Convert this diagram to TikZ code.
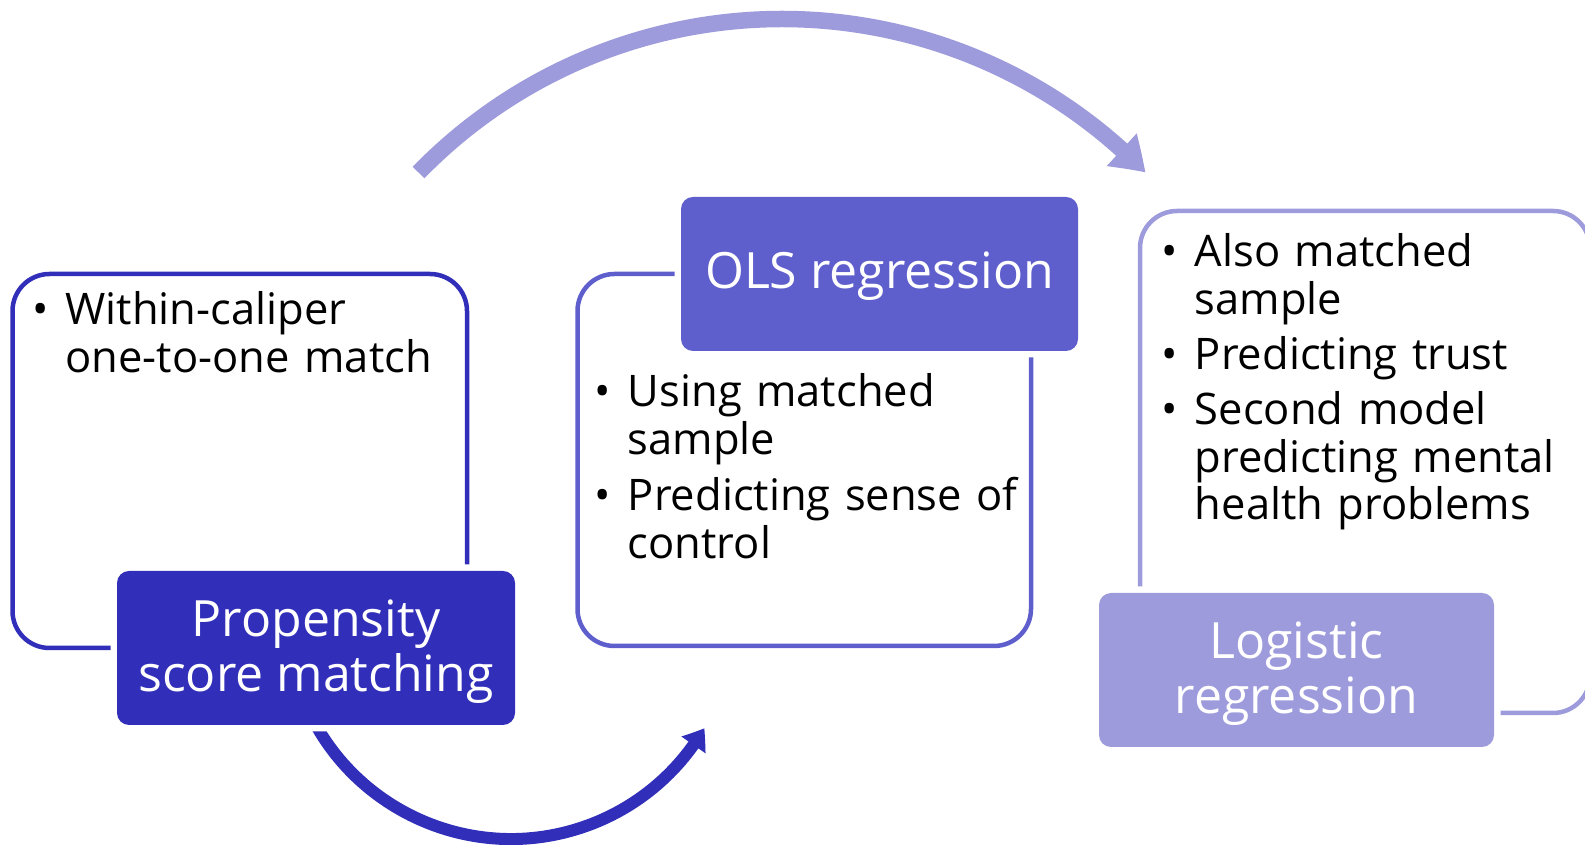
\documentclass[tikz,border=0pt]{standalone}
\usepackage{fontspec}
\setmainfont{Open Sans}
\usetikzlibrary{arrows.meta,bending}
\definecolor{cdark}{RGB}{49,46,185}
\definecolor{cmid}{RGB}{94,94,204}
\definecolor{clight}{RGB}{157,155,219}
\newlength\bulw
\setlength\bulw{33pt}
\newcommand\bfirst[1]{\noindent\makebox[\bulw][l]{\textbullet}\parbox[t]{400pt}{\strut#1\strut}\par}
\newcommand\bnext[1]{\vspace{7pt}\bfirst{#1}}
\newcommand\bulfont{\fontsize{43.5}{46.5}\selectfont}
\tikzset{
  outline/.style={draw=#1, line width=4.5pt, rounded corners=37pt, inner sep=0pt},
  lab/.style={fill=#1, rounded corners=12pt, inner sep=0pt,
    preaction={draw=white, line width=13pt}},
  labtext/.style={text=white, align=center, inner sep=0pt,
    font=\fontsize{50}{55}\selectfont},
  bultext/.style={anchor=base west, text width=440pt, align=left, inner sep=0pt,
    font=\bulfont},
}
\begin{document}
\begin{tikzpicture}[x=1pt,y=1pt]
\useasboundingbox (0,0) rectangle (1585,845);
\clip (0,0) rectangle (1585,845);
% outline boxes
\node[outline=cdark, minimum width=454.5pt, minimum height=374pt] (b1) at (239.75,384) {};
\node[outline=cmid, minimum width=453.5pt, minimum height=372pt] (b2) at (804.25,385) {};
\node[outline=clight, minimum width=450pt, minimum height=502pt] (b3) at (1365,383) {};
% bullet texts
\node[bultext] (t1) at (32.4,520) {\bulfont\bfirst{Within-caliper\\one-to-one match}};
\node[bultext] (t2) at (594.7,438) {\bulfont\bfirst{Using matched\\sample}\bnext{Predicting sense of\\control}};
\node[bultext] (t3) at (1161.7,578) {\bulfont\bfirst{Also matched\\sample}\bnext{Predicting trust}\bnext{Second model\\predicting mental\\health problems}};
% arcs
\coordinate (c1) at (782,319);
\coordinate (c2) at (511,230);
\draw[clight, line width=16.5pt, -{Triangle[length=33pt,width=42pt,bend]}]
  (c1) ++(135.8:507) arc[start angle=135.8, end angle=44.2, radius=507];
\draw[cdark, line width=12pt, -{Triangle[length=20pt,width=28pt,bend]}]
  (c2) ++(200:224) arc[start angle=200, end angle=329.65, radius=224];
% label boxes
\node[lab=cdark, minimum width=398pt, minimum height=154pt] (l1) at (316,197) {};
\node[lab=cmid, minimum width=397pt, minimum height=154pt] (l2) at (879.5,571) {};
\node[lab=clight, minimum width=395pt, minimum height=154pt] (l3) at (1296.5,175) {};
\node[labtext] (l1t) at ([yshift=-4pt]l1.center) {Propensity\\score matching};
\node[labtext] (l2t) at ([yshift=-2pt]l2.center) {OLS regression};
\node[labtext] (l3t) at ([yshift=-4pt]l3.center) {Logistic\\regression};
\end{tikzpicture}
\end{document}
